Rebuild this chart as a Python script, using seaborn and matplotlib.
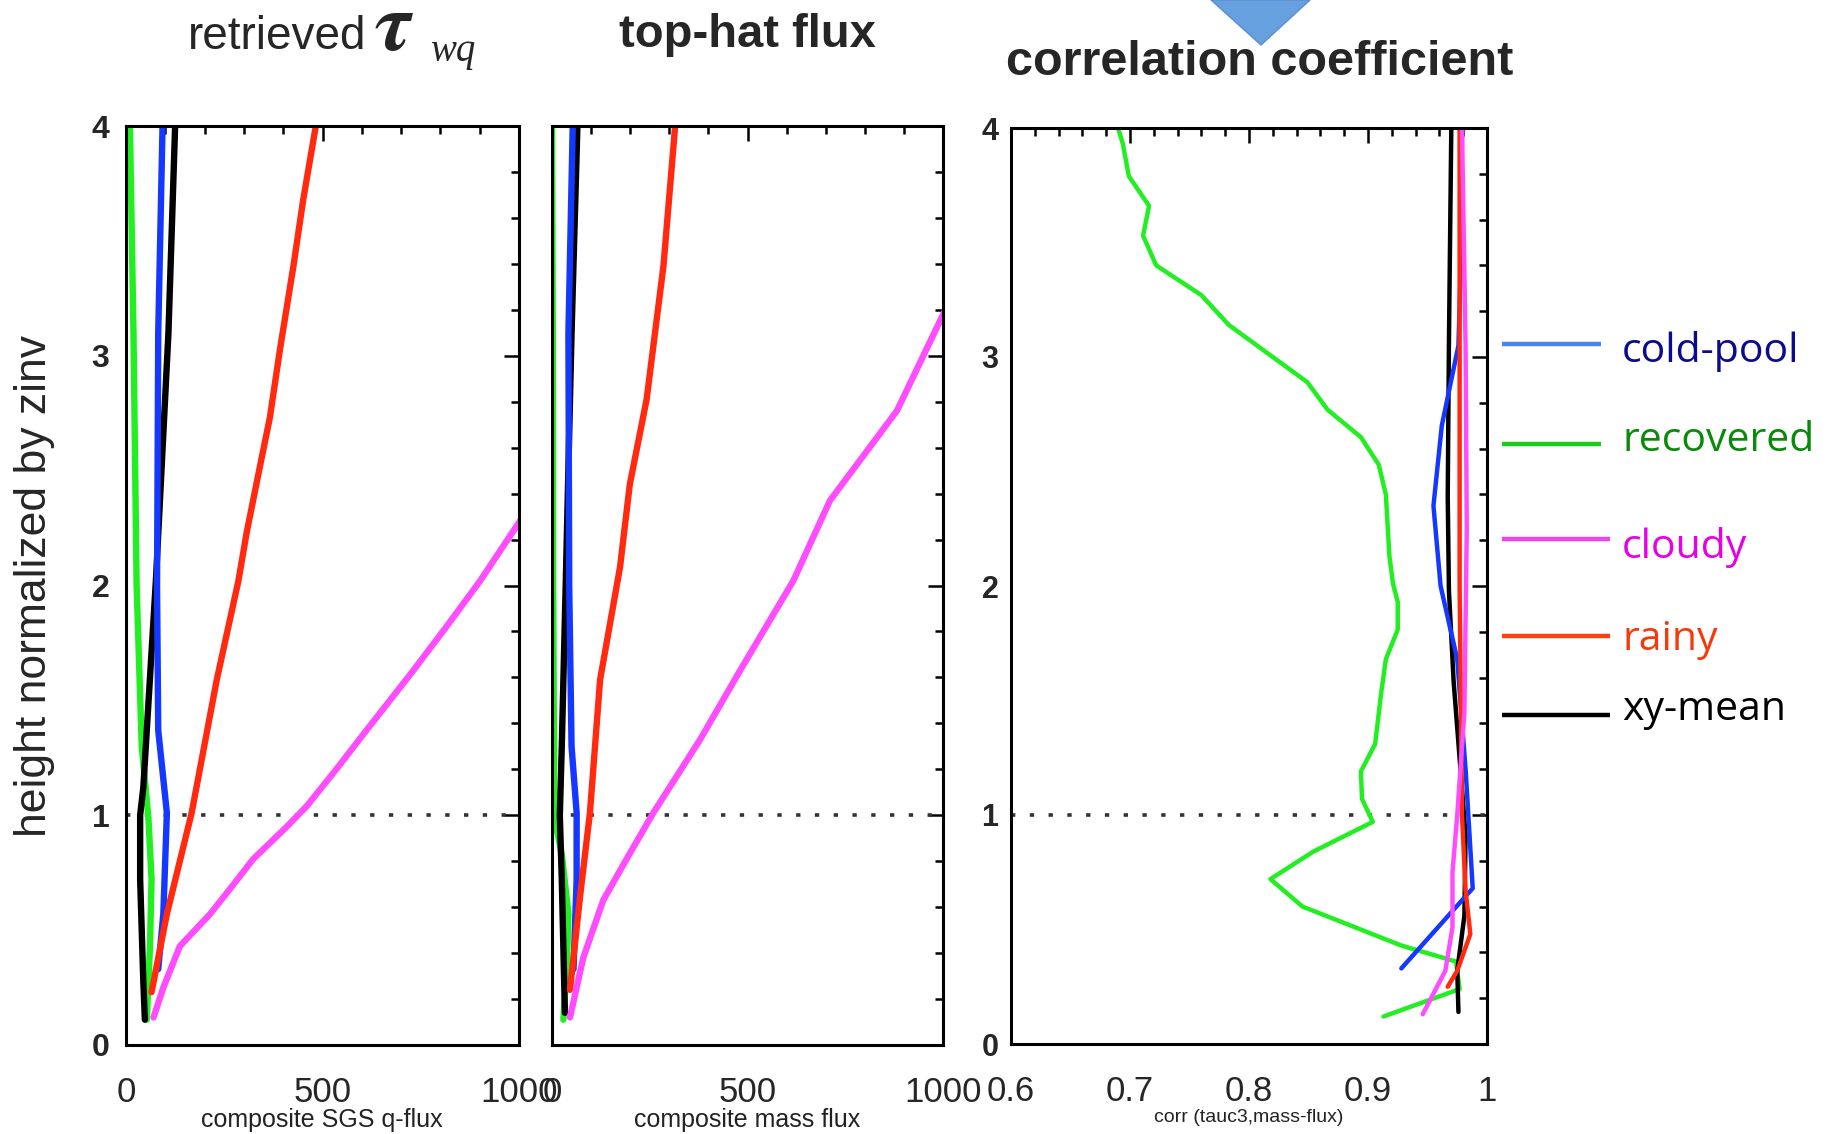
import matplotlib
matplotlib.use("Agg")
import matplotlib.pyplot as plt
from matplotlib.lines import Line2D
from matplotlib.patches import Polygon
from matplotlib.ticker import MultipleLocator, FixedLocator
import pandas as pd
import seaborn as sns

# ---------------- data ----------------
cases = ["cold-pool", "recovered", "cloudy", "rainy", "xy-mean"]

# panel 1: composite SGS q-flux (retrieved tau_wq)
qf_coldpool_z = [4.0, 3.1, 2.0, 1.37, 1.01, 0.57, 0.33]
qf_coldpool_x = [93, 82, 79, 82, 104, 95, 82]
qf_recovered_z = [4.0, 3.1, 2.0, 1.3, 0.99, 0.72, 0.43, 0.11]
qf_recovered_x = [10, 19, 27, 40, 57, 65, 61, 53]
qf_cloudy_z = [2.3, 2.02, 1.82, 1.63, 1.37, 1.2, 1.04, 0.95, 0.81, 0.68, 0.57, 0.43, 0.25, 0.12]
qf_cloudy_x = [1010, 901, 815, 731, 612, 535, 460, 409, 324, 265, 214, 137, 95, 70]
qf_rainy_z = [4.0, 3.68, 3.39, 3.03, 2.73, 2.52, 2.23, 2.02, 1.59, 1.01, 0.57, 0.23]
qf_rainy_x = [483, 451, 426, 392, 366, 341, 307, 286, 231, 167, 104, 65]
qf_mean_z = [4.0, 3.1, 2.02, 1.12, 1.0, 0.72, 0.28, 0.11]
qf_mean_x = [125, 108, 76, 44, 36, 36, 44, 48]

# panel 2: composite mass flux (top-hat)
mf_coldpool_z = [4.0, 3.1, 2.0, 1.3, 1.01, 0.72, 0.33]
mf_coldpool_x = [53, 42, 44, 50, 63, 63, 55]
mf_recovered_z = [4.0, 3.1, 2.0, 1.3, 1.0, 0.83, 0.57, 0.35, 0.11]
mf_recovered_x = [0, 2, 3, 5, 5, 25, 42, 38, 29]
mf_cloudy_z = [3.2, 2.76, 2.37, 2.02, 1.63, 1.33, 1.01, 0.81, 0.63, 0.38, 0.12]
mf_cloudy_x = [1006, 882, 711, 617, 481, 379, 259, 191, 131, 80, 46]
mf_rainy_z = [4.0, 3.39, 2.81, 2.44, 2.08, 1.59, 1.01, 0.65, 0.24]
mf_rainy_x = [315, 285, 242, 199, 174, 123, 97, 72, 46]
mf_mean_z = [4.0, 3.1, 2.0, 1.3, 1.0, 0.72, 0.14]
mf_mean_x = [65, 50, 35, 25, 20, 25, 33]

# panel 3: corr(tauc3, mass-flux)
cc_coldpool_z = [4.0, 3.4, 3.05, 2.7, 2.35, 2.0, 1.68, 1.2, 0.68, 0.33]
cc_coldpool_x = [0.979, 0.978, 0.976, 0.962, 0.955, 0.961, 0.975, 0.982, 0.988, 0.928]
cc_recovered_z = [4.0, 3.93, 3.79, 3.66, 3.53, 3.40, 3.27, 3.14, 2.89, 2.77, 2.65,
                  2.53, 2.40, 2.13, 2.01, 1.93, 1.81, 1.68, 1.53, 1.31, 1.19, 1.07,
                  0.97, 0.84, 0.72, 0.60, 0.43, 0.36, 0.24, 0.12]
cc_recovered_x = [0.690, 0.694, 0.699, 0.716, 0.711, 0.722, 0.760, 0.783, 0.849, 0.866,
                  0.894, 0.909, 0.915, 0.918, 0.921, 0.925, 0.925, 0.915, 0.911, 0.906,
                  0.894, 0.895, 0.904, 0.854, 0.818, 0.845, 0.928, 0.974, 0.977, 0.913]
cc_cloudy_z = [4.0, 3.05, 2.25, 1.45, 1.0, 0.75, 0.51, 0.32, 0.13]
cc_cloudy_x = [0.979, 0.982, 0.983, 0.981, 0.975, 0.971, 0.971, 0.965, 0.946]
cc_rainy_z = [4.0, 2.0, 1.0, 0.67, 0.48, 0.32, 0.25]
cc_rainy_x = [0.977, 0.977, 0.979, 0.982, 0.986, 0.975, 0.967]
cc_mean_z = [4.0, 3.06, 2.39, 1.98, 1.58, 1.18, 0.91, 0.56, 0.32, 0.14]
cc_mean_x = [0.970, 0.968, 0.967, 0.968, 0.972, 0.978, 0.982, 0.981, 0.975, 0.976]

panel_titles = ["retrieved", "top-hat flux", "correlation coefficient"]
x_labels = ["composite SGS q-flux", "composite mass flux", "corr (tauc3,mass-flux)"]
y_label = "height normalized by zinv"

line_colors = {"cold-pool": "#1438ff", "recovered": "#22ee22", "cloudy": "#ff4cff",
               "rainy": "#ff2a10", "xy-mean": "#000000"}
legend_line_colors = {"cold-pool": "#4a86f0", "recovered": "#1ccc1c", "cloudy": "#ee44ee",
                      "rainy": "#ff4010", "xy-mean": "#000000"}
legend_text_colors = {"cold-pool": "#0b0b8f", "recovered": "#0a8a0a", "cloudy": "#e600e6",
                      "rainy": "#f53a0a", "xy-mean": "#000000"}
draw_order = ["recovered", "xy-mean", "cold-pool", "rainy", "cloudy"]


def long_frame(xs, zs):
    rows = []
    for case, x, z in zip(cases, xs, zs):
        for xv, zv in zip(x, z):
            rows.append({"case": case, "value": xv, "height": zv})
    return pd.DataFrame(rows)


df_q = long_frame([qf_coldpool_x, qf_recovered_x, qf_cloudy_x, qf_rainy_x, qf_mean_x],
                  [qf_coldpool_z, qf_recovered_z, qf_cloudy_z, qf_rainy_z, qf_mean_z])
df_m = long_frame([mf_coldpool_x, mf_recovered_x, mf_cloudy_x, mf_rainy_x, mf_mean_x],
                  [mf_coldpool_z, mf_recovered_z, mf_cloudy_z, mf_rainy_z, mf_mean_z])
df_c = long_frame([cc_coldpool_x, cc_recovered_x, cc_cloudy_x, cc_rainy_x, cc_mean_x],
                  [cc_coldpool_z, cc_recovered_z, cc_cloudy_z, cc_rainy_z, cc_mean_z])

# ---------------- figure ----------------
sns.set_style("white")
plt.rcParams["font.family"] = ["Liberation Sans", "DejaVu Sans"]
plt.rcParams["mathtext.fontset"] = "custom"
plt.rcParams["mathtext.it"] = "STIXGeneral:italic:bold"
plt.rcParams["mathtext.rm"] = "STIXGeneral"
NARROW = ["Liberation Sans Narrow", "Liberation Sans", "DejaVu Sans"]

W, H = 1839, 1134
fig = plt.figure(figsize=(W / 100, H / 100), dpi=100)


def px_axes(left, top, right, bottom):
    return fig.add_axes([left / W, 1 - bottom / H, (right - left) / W, (bottom - top) / H])


ax1 = px_axes(126, 126, 519, 1045)
ax2 = px_axes(552, 126, 943, 1045)
ax3 = px_axes(1011, 128, 1487, 1044)


def draw(ax, df, lw):
    sns.lineplot(data=df, x="value", y="height", hue="case", hue_order=draw_order,
                 palette=line_colors, sort=False, estimator=None, lw=lw,
                 legend=False, ax=ax, solid_joinstyle="round")


draw(ax1, df_q, 4.6)
draw(ax2, df_m, 4.6)
draw(ax3, df_c, 3.2)


def style(ax, xlim, xmajor, xminor, ylabels, ylab_pad):
    ax.set_xlim(*xlim)
    ax.set_ylim(0, 4)
    ax.xaxis.set_major_locator(MultipleLocator(xmajor))
    ax.xaxis.set_minor_locator(MultipleLocator(xminor))
    ax.yaxis.set_major_locator(MultipleLocator(1))
    ax.yaxis.set_minor_locator(MultipleLocator(0.2))
    ax.tick_params(which="both", direction="in", top=True, right=True,
                   width=1.8, color="black")
    ax.tick_params(which="major", length=11)
    ax.tick_params(which="minor", length=6)
    ax.tick_params(axis="x", which="major", pad=22, labelsize=25)
    ax.tick_params(axis="y", which="major", pad=ylab_pad, labelsize=23,
                   labelleft=ylabels)
    for lab in ax.get_yticklabels():
        lab.set_fontweight("bold")
    for sp in ax.spines.values():
        sp.set_linewidth(2.2)
        sp.set_color("black")
        sp.set_visible(True)
    ax.axhline(1, color="#333333", lw=2.6, ls=(0, (1.2, 4.0)), zorder=1)
    ax.set_xlabel("")
    ax.set_ylabel("")
    ax.set_facecolor("white")


style(ax1, (0, 1000), 500, 100, True, 12)
style(ax2, (0, 1000), 500, 100, False, 12)
style(ax3, (0.6, 1.0), 0.1, 0.02, True, 9)
ax3.xaxis.set_major_locator(FixedLocator([0.6, 0.7, 0.8, 0.9, 1.0]))
ax3.set_xticklabels(["0.6", "0.7", "0.8", "0.9", "1"])
for lab in ax3.get_xticklabels():
    lab.set_family(NARROW)
for lab in ax3.get_yticklabels():
    lab.set_fontweight("bold")
    lab.set_fontsize(22)


def ftext(x, y, s, **kw):
    return fig.text(x / W, 1 - y / H, s, **kw)


# titles
ftext(188, 49, panel_titles[0], fontsize=33, ha="left", va="baseline")
ftext(374, 50, r"$\tau$", fontsize=60, ha="left", va="baseline")
ftext(430, 61, "wq", fontsize=28, family="Liberation Serif", style="italic",
      ha="left", va="baseline")
ftext(747, 47, panel_titles[1], fontsize=34, weight="bold", ha="center", va="baseline")
ftext(1260, 75, panel_titles[2], fontsize=35, weight="bold", ha="center", va="baseline")

# axis labels
ftext(322, 1120, x_labels[0], fontsize=18, family=NARROW, color="#222222",
      ha="center", va="center")
ftext(747, 1120, x_labels[1], fontsize=18, family=NARROW, color="#222222",
      ha="center", va="center")
ftext(1249, 1118, x_labels[2], fontsize=14, family=NARROW, color="#222222",
      ha="center", va="center")
ftext(35, 586, y_label, fontsize=32, family=NARROW, rotation=90,
      ha="center", va="center")

# pointer triangle above the correlation panel
fig.patches.append(Polygon([[1211 / W, 1.0], [1310 / W, 1.0], [1261 / W, 1 - 45 / H]],
                           closed=True, transform=fig.transFigure,
                           facecolor="#67a0df", edgecolor="#5b8fcc", lw=1))

# legend
legend_rows = [("cold-pool", 344, 1601, 362), ("recovered", 444, 1601, 451),
               ("cloudy", 539, 1610, 558), ("rainy", 636, 1610, 650),
               ("xy-mean", 715, 1610, 720)]
for name, ly, lx2, ty in legend_rows:
    fig.add_artist(Line2D([1502 / W, lx2 / W], [1 - ly / H, 1 - ly / H],
                          transform=fig.transFigure, color=legend_line_colors[name],
                          lw=3.2, solid_capstyle="butt"))
    ftext(1622, ty, name, fontsize=29.5, family=["Open Sans", "DejaVu Sans"],
          color=legend_text_colors[name], ha="left", va="baseline")

fig.savefig("out.png", dpi=100, facecolor="white")
